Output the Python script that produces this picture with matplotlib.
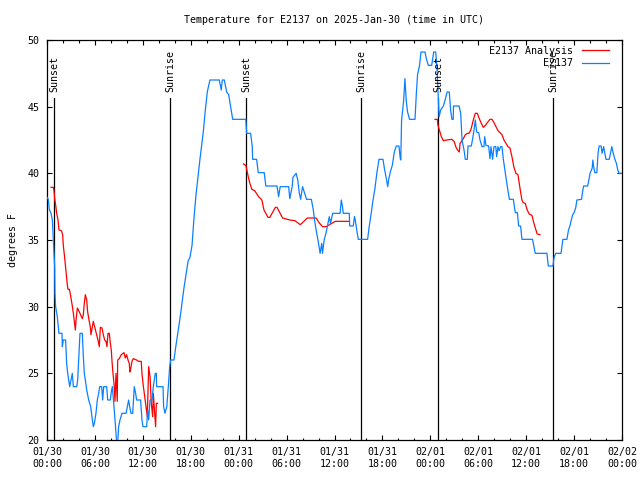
import numpy as np
import matplotlib
matplotlib.use("Agg")
import matplotlib.pyplot as plt
import matplotlib.dates as mdates

# ---------------- data (hours since 2025-01-30 00:00 UTC) ----------------
obs_hours = [0.0, 0.16, 0.29, 0.5, 0.67, 0.83, 0.96, 1.0, 1.08, 1.29, 1.5, 1.88, 1.92, 2.04, 2.33,
             2.46, 2.59, 2.84, 3.0, 3.17, 3.3, 3.72, 3.84, 4.0, 4.13, 4.42, 4.55, 4.67, 4.8, 4.97,
             5.22, 5.47, 5.68, 5.8, 5.93, 6.13, 6.3, 6.47, 6.6, 6.85, 6.97, 7.1, 7.47, 7.6, 7.93,
             8.05, 8.18, 8.39, 8.55, 8.72, 8.85, 8.97, 9.14, 9.39, 9.9, 10.06, 10.22, 10.35, 10.52,
             10.73, 10.93, 11.1, 11.22, 11.72, 11.89, 12.02, 12.48, 12.6, 12.73, 12.9, 13.15, 13.31,
             13.56, 13.69, 13.73, 14.53, 14.6, 14.77, 15.0, 15.19, 15.36, 15.48, 15.9, 16.15, 16.65,
             17.15, 17.66, 17.9, 18.16, 18.4, 18.66, 19.16, 19.57, 19.8, 20.07, 20.4, 21.57, 21.82,
             21.95, 22.2, 22.5, 22.75, 23.0, 23.25, 24.9, 25.0, 25.5, 25.7, 25.75, 26.25, 26.45, 27.2,
             27.4, 28.8, 29.0, 29.2, 30.26, 30.4, 30.7, 30.8, 31.2, 31.4, 31.6, 31.76, 32.0, 32.27,
             32.5, 33.1, 33.35, 33.5, 33.77, 34.0, 34.2, 34.4, 34.5, 34.7, 34.93, 35.1, 35.35, 35.5,
             35.77, 36.7, 36.85, 37.0, 37.1, 37.85, 37.9, 38.35, 38.5, 38.6, 38.85, 38.98, 40.15,
             40.32, 40.57, 40.8, 41.07, 41.32, 41.57, 42.07, 42.24, 42.49, 42.66, 42.8, 42.99, 43.24,
             43.49, 43.74, 44.07, 44.24, 44.3, 44.4, 44.65, 44.82, 44.99, 45.15, 45.4, 46.08, 46.24,
             46.4, 46.65, 46.83, 47.33, 47.5, 47.75, 48.17, 48.42, 48.67, 48.83, 49.0, 49.1, 49.3,
             49.45, 49.6, 49.85, 50.1, 50.37, 50.54, 50.7, 50.87, 50.9, 51.6, 51.8, 51.97, 52.22,
             52.38, 52.63, 52.72, 53.13, 53.3, 53.47, 53.63, 53.8, 54.06, 54.22, 54.47, 54.72, 54.8,
             54.97, 55.3, 55.47, 55.6, 55.8, 55.97, 56.2, 56.3, 56.47, 56.6, 56.8, 56.97, 57.14,
             57.4, 57.64, 57.9, 58.39, 58.64, 58.9, 59.06, 59.3, 59.47, 60.8, 61.13, 62.6, 62.77,
             63.35, 63.5, 63.7, 64.36, 64.5, 64.6, 65.1, 65.3, 65.5, 65.65, 65.83, 66.0, 66.2, 66.35,
             66.93, 67.1, 67.2, 67.7, 67.85, 68.0, 68.27, 68.35, 68.45, 68.6, 68.85, 69.0, 69.14,
             69.39, 69.5, 69.7, 69.85, 70.0, 70.4, 70.55, 70.73, 70.9, 71.14, 71.3, 71.47, 71.64, 72.0]
obs_temps = [38.2, 38.05, 37.3, 37.0, 36.5, 34.55, 33.0, 31.0, 30.0, 29.25, 28.0, 28.0, 27.0, 27.5, 27.5,
             25.75, 25.0, 24.0, 24.5, 25.0, 24.0, 24.0, 24.5, 26.5, 28.0, 28.0, 26.25, 25.0, 24.5, 23.75,
             23.0, 22.5, 21.5, 21.0, 21.25, 22.0, 23.0, 23.5, 24.0, 24.0, 23.0, 24.0, 24.0, 23.0, 23.0,
             23.6, 24.0, 22.5, 21.25, 19.8, 19.8, 21.0, 21.5, 22.0, 22.0, 22.5, 23.0, 22.5, 22.0,
             22.0, 24.0, 23.5, 23.0, 23.0, 21.5, 21.0, 21.0, 22.25, 21.5, 23.0, 23.0, 24.0,
             25.0, 25.0, 24.0, 24.0, 22.5, 22.0, 22.5, 24.0, 25.5, 26.0, 26.0, 27.1, 29.1,
             31.4, 33.4, 33.7, 34.6, 36.6, 38.4, 41.1, 43.1, 44.6, 46.1, 47.0, 47.0, 46.25,
             47.0, 47.0, 46.1, 45.9, 45.0, 44.05, 44.05, 43.0, 43.0, 42.0, 41.05, 41.05, 40.05, 40.05,
             39.05, 39.05, 38.25, 39.0, 39.0, 38.1, 39.0, 39.7, 40.0, 39.5, 38.5, 38.05, 39.0, 38.5,
             38.05, 38.05, 37.25, 36.5, 35.5, 34.75, 34.0, 34.75, 34.0, 35.0, 35.5, 36.0, 36.75, 36.25,
             37.0, 37.0, 38.0, 37.5, 37.0, 37.0, 36.05, 36.05, 36.75, 36.5, 35.5, 35.05, 35.05,
             35.9, 36.9, 37.9, 38.9, 40.1, 41.05, 41.05, 40.4, 39.6, 39.0, 39.6, 40.1, 40.6,
             41.6, 42.05, 42.05, 41.1, 41.0, 44.0, 45.4, 47.1, 45.4, 44.6, 44.05, 44.05, 45.9,
             47.4, 48.1, 49.1, 49.1, 48.6, 48.1, 48.1, 49.1, 49.1, 47.9, 45.5, 44.25, 44.75,
             44.9, 45.0, 45.5, 46.1, 46.1, 44.75, 44.05, 44.05, 45.05, 45.05, 44.5, 42.5, 41.75,
             41.05, 41.05, 42.05, 42.05, 42.6, 43.25, 44.0, 43.1, 43.05, 42.5, 42.0, 42.0, 42.75,
             42.1, 42.05, 41.1, 42.0, 41.05, 42.0, 42.0, 41.25, 42.0, 41.7, 42.0, 42.0, 41.05,
             40.0, 39.0, 38.05, 38.05, 37.05, 37.05, 36.05, 36.05, 35.05, 35.05, 34.0, 34.0, 33.05,
             33.05, 33.7, 34.0, 34.0, 34.6, 35.05, 35.05, 35.75, 36.1, 36.5, 36.9, 37.05, 37.4, 38.0,
             38.05, 38.75, 39.05, 39.05, 39.5, 40.0, 40.4, 41.0, 40.5, 40.05, 40.05, 41.5, 42.05,
             42.05, 41.5, 42.0, 41.5, 41.05, 41.05, 41.5, 42.0, 41.5, 41.0, 40.75, 40.25, 40.0, 40.0]

nan = float("nan")
ana_hours = [0.5, 0.8, 0.88, 0.96, 1.09, 1.21, 1.38, 1.5, 1.8, 1.96, 2.04, 2.17, 2.3, 2.42, 2.55, 2.63,
             2.8, 2.92, 3.05, 3.17, 3.3, 3.42, 3.55, 3.63, 3.8, 3.93, 4.13, 4.42, 4.55, 4.67, 4.8,
             4.97, 5.09, 5.26, 5.42, 5.5, 5.68, 5.8, 5.97, 6.13, 6.38, 6.55, 6.68, 6.89, 7.05, 7.22,
             7.39, 7.51, 7.64, 7.8, 7.93, 8.05, 8.14, 8.26, 8.39, 8.51, 8.64, 8.8, 8.85, 9.05, 9.3,
             9.64, 9.8, 9.97, 10.14, 10.3, 10.39, 10.5, 10.64, 10.8, 11.22, 11.47, 11.8, 11.89, 12.05,
             12.23, 12.4, 12.56, 12.73, 12.9, 13.06, 13.23, 13.31, 13.48, 13.6, 13.69, 13.85,
             19.0,
             24.6, 24.9, 25.2, 25.4, 25.66, 26.0, 26.5, 26.9, 27.17, 27.67, 27.9, 28.6, 28.8, 29.5,
             30.4, 31.05, 31.7, 31.9, 32.6, 33.7, 34.0, 34.5, 35.0, 35.5, 36.1, 37.85,
             43.0,
             48.58, 48.87, 48.96, 49.13, 49.38, 49.63, 50.05, 50.7, 50.97, 51.22, 51.47, 51.63, 51.72,
             51.97, 52.13, 52.38, 52.63, 52.85, 53.06, 53.22, 53.38, 53.63, 53.88, 54.13, 54.38,
             54.63, 54.9, 55.14, 55.47, 55.72, 55.97, 56.22, 56.47, 56.72, 56.97, 57.22, 57.47,
             57.72, 57.97, 58.22, 58.47, 58.72, 58.97, 59.13, 59.3, 59.47, 59.63, 59.88, 60.13,
             60.38, 60.72, 60.97, 61.22, 61.38, 61.72]
ana_temps = [38.95, 38.95, 38.7, 38.1, 37.6, 37.0, 36.5, 35.75, 35.7, 35.4, 34.6, 33.9, 33.1, 32.4, 31.6, 31.3,
             31.3, 30.95, 30.5, 30.05, 29.5, 28.9, 28.25, 28.95, 29.9, 29.75, 29.5, 29.1, 29.4, 30.25, 30.9,
             30.5, 29.6, 29.0, 28.5, 27.9, 28.5, 28.9, 28.5, 28.1, 27.5, 27.0, 28.45, 28.4, 27.9, 27.5,
             27.4, 27.0, 28.0, 28.0, 27.25, 26.75, 25.9, 25.0, 24.25, 22.9, 25.0, 22.9, 26.0, 26.1, 26.4,
             26.55, 26.15, 26.4, 26.0, 25.75, 25.1, 25.4, 25.9, 26.1, 26.0, 25.9, 25.9, 25.0, 24.1,
             23.25, 22.5, 21.75, 25.5, 24.75, 22.75, 21.75, 23.5, 22.0, 21.0, 22.75, 22.75,
             nan,
             40.7, 40.6, 39.75, 39.25, 38.8, 38.7, 38.25, 38.0, 37.25, 36.7, 36.7, 37.45, 37.45, 36.65,
             36.5, 36.45, 36.15, 36.25, 36.65, 36.65, 36.35, 36.0, 36.0, 36.2, 36.4, 36.4,
             nan,
             44.05, 44.05, 43.6, 43.25, 42.75, 42.45, 42.5, 42.55, 42.4, 41.95, 41.7, 41.6, 42.25,
             42.45, 42.6, 42.9, 43.0, 43.0, 43.25, 43.6, 44.0, 44.5, 44.5, 44.1, 43.75,
             43.45, 43.6, 43.8, 44.05, 44.05, 43.8, 43.5, 43.2, 43.05, 42.9, 42.5, 42.25,
             42.0, 41.9, 41.25, 40.45, 40.0, 39.9, 39.25, 38.6, 38.0, 37.8, 37.75, 37.25,
             36.95, 36.85, 36.25, 35.75, 35.45, 35.4]

event_hours = [0.92, 15.42, 24.93, 39.37, 48.97, 63.4]
event_names = ["Sunset", "Sunrise", "Sunset", "Sunrise", "Sunset", "Sunrise"]

title = "Temperature for E2137 on 2025-Jan-30 (time in UTC)"
start = np.datetime64("2025-01-30T00:00")


def to_time(hours):
    return start + (np.asarray(hours, dtype=float) * 3600).astype("timedelta64[s]")


# ---------------- figure ----------------
FONT = "DejaVu Sans Mono"
FS = 7.2
plt.rcParams["font.family"] = [FONT]

fig = plt.figure(figsize=(6.4, 4.8), dpi=100)
ax = fig.add_axes([47 / 640, 40 / 480, 575 / 640, 400 / 480])

l_ana, = ax.plot(to_time(ana_hours), ana_temps, color="#ff0000", lw=0.9,
                 label="E2137 Analysis", zorder=3)
l_obs, = ax.plot(to_time(obs_hours), obs_temps, color="#0a80ff", lw=0.9,
                 label="E2137", zorder=3)

line_top = 45.65
label_base = 46.1
for h, name in zip(event_hours, event_names):
    t = to_time([h])[0]
    ax.plot([t, t], [20, line_top], color="black", lw=0.9, zorder=2)
    ax.text(t, label_base, name, rotation=90, ha="center", va="bottom",
            fontsize=FS, family=FONT)

ax.set_xlim(to_time([0])[0], to_time([72])[0])
ax.set_ylim(20, 50)
ax.set_yticks(np.arange(20, 51, 5))

ax.xaxis.set_major_locator(mdates.HourLocator(byhour=[0, 6, 12, 18]))
ax.xaxis.set_minor_locator(mdates.HourLocator(interval=2))
ax.xaxis.set_major_formatter(mdates.DateFormatter("%m/%d\n%H:%M"))

ax.tick_params(which="both", direction="in", top=True, right=True, width=0.8,
               labelsize=FS, colors="black")
ax.tick_params(which="major", length=3.3, pad=5)
ax.tick_params(which="minor", length=1.8)
ax.tick_params(axis="y", pad=5.5)
for lab in ax.get_xticklabels():
    lab.set_multialignment("center")
for s in ax.spines.values():
    s.set_linewidth(0.9)

ax.set_ylabel("degrees F", fontsize=FS, labelpad=7)
ax.set_title(title, fontsize=FS, pad=12.5)

ax.legend(handles=[l_ana, l_obs], loc="upper right", bbox_to_anchor=(0.9896, 1.003),
          frameon=False, markerfirst=False,
          fontsize=FS, handlelength=2.7, handletextpad=0.9, labelspacing=0.25,
          borderaxespad=0.3, borderpad=0.4)

fig.savefig("out.png", dpi=100)
